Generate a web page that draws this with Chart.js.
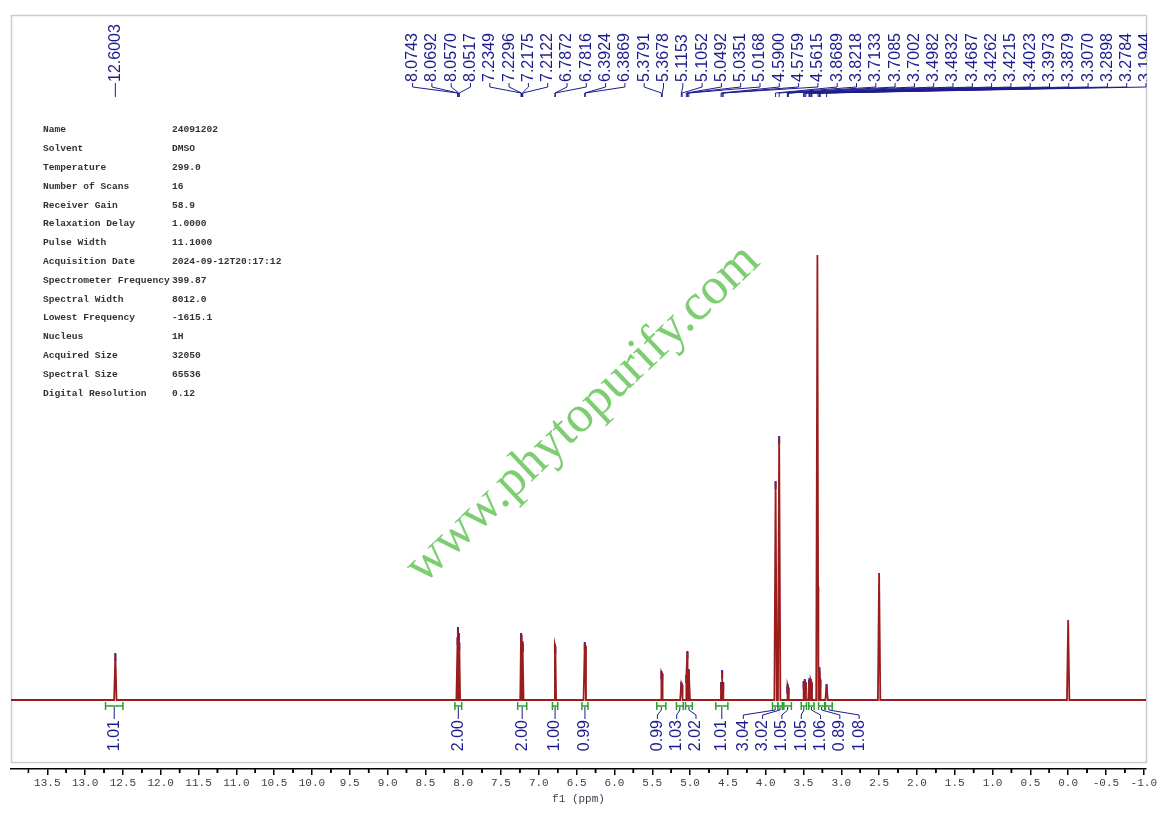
<!DOCTYPE html>
<html>
<head>
<meta charset="utf-8">
<script src="https://cdn.jsdelivr.net/npm/chart.js@4.4.1/dist/chart.umd.min.js"></script>
<style>
  html, body { margin: 0; padding: 0; background: #fff; }
  canvas { display: block; }
</style>
</head>
<body>
<canvas id="nmr" width="1158" height="816"></canvas>
<script>
// picked peaks (ppm) and their heights
const peakPpm = [
  12.6003,
  8.0743, 8.0692, 8.0570, 8.0517,
  7.2349, 7.2296, 7.2175, 7.2122,
  6.7872, 6.7816, 6.3924, 6.3869,
  5.3791, 5.3678, 5.1153, 5.1052, 5.0492, 5.0351, 5.0168,
  4.5900, 4.5759, 4.5615,
  3.8689, 3.8218, 3.7133, 3.7085, 3.7002,
  3.4982, 3.4832, 3.4687, 3.4262, 3.4215, 3.4023, 3.3973, 3.3879,
  3.3070, 3.2898, 3.2784, 3.1944
];
const peakHeight = [
  46,
  62, 72, 66, 57,
  66, 64, 58, 55,
  55, 53, 57, 54,
  28, 26, 17, 15, 24, 48, 30,
  17, 29, 17,
  218, 263, 13, 15, 12,
  18, 20, 17, 19, 21, 20, 18, 15,
  113, 32, 20, 15
];

// peaks that were not picked: water, DMSO, TMS
const solventPpm = [3.316, 2.500, 0.000];
const solventHeight = [445, 127, 80];

// integral regions
const integralFrom = [12.73, 8.11, 7.28, 6.82, 6.43, 5.44, 5.18, 5.06, 4.66, 3.91, 3.84, 3.76, 3.53, 3.43, 3.30, 3.21];
const integralTo   = [12.50, 8.02, 7.16, 6.75, 6.35, 5.32, 5.09, 4.97, 4.50, 3.84, 3.78, 3.66, 3.46, 3.36, 3.22, 3.12];
const integralValue = [1.01, 2.00, 2.00, 1.00, 0.99, 0.99, 1.03, 2.02, 1.01, 3.04, 3.02, 1.05, 1.05, 1.06, 0.89, 1.08];

const paramNames = [
  'Name', 'Solvent', 'Temperature', 'Number of Scans', 'Receiver Gain',
  'Relaxation Delay', 'Pulse Width', 'Acquisition Date', 'Spectrometer Frequency',
  'Spectral Width', 'Lowest Frequency', 'Nucleus', 'Acquired Size', 'Spectral Size',
  'Digital Resolution'
];
const paramValues = [
  '24091202', 'DMSO', '299.0', '16', '58.9',
  '1.0000', '11.1000', '2024-09-12T20:17:12', '399.87',
  '8012.0', '-1615.1', '1H', '32050', '65536',
  '0.12'
];

const watermarkText = 'www.phytopurify.com';
const axisTitle = 'f1 (ppm)';

const NAVY = '#1c1c8c';
const GREEN = '#2ca02c';
const SPEC = '#9b1c1c';

// line shape: narrow peaks on a flat baseline
const halfWidth = 0.016;
const spectrum = [{ x: 13.98, y: 0 }, { x: -1.03, y: 0 }];
peakPpm.forEach((p, i) => {
  spectrum.push({ x: p + halfWidth, y: 0 }, { x: p, y: peakHeight[i] }, { x: p - halfWidth, y: 0 });
});
solventPpm.forEach((p, i) => {
  spectrum.push({ x: p + halfWidth, y: 0 }, { x: p, y: solventHeight[i] }, { x: p - halfWidth, y: 0 });
});
spectrum.sort((a, b) => b.x - a.x);

const markers = peakPpm.map((p, i) => ({ x: p, y: peakHeight[i] - 3 }));

// spread labels so they don't overlap; a group sits centred on its peaks,
// but never starts more than `slack` px left of its first peak
function spread(desired, gap, lo, hi, slack) {
  let groups = desired.map((d) => ({ n: 1, sum: d, left: d }));
  const first = (g) => {
    let s = Math.max(g.sum / g.n - (g.n - 1) * gap / 2, g.left - slack);
    s = Math.min(s, hi - (g.n - 1) * gap);
    return Math.max(s, lo);
  };
  let changed = true;
  while (changed) {
    changed = false;
    for (let i = 0; i < groups.length - 1; i++) {
      const a = groups[i], b = groups[i + 1];
      if (first(b) - (first(a) + (a.n - 1) * gap) < gap - 0.01) {
        groups.splice(i, 2, { n: a.n + b.n, sum: a.sum + b.sum, left: a.left });
        changed = true;
        break;
      }
    }
  }
  const out = [];
  groups.forEach((g) => {
    const s = first(g);
    for (let k = 0; k < g.n; k++) out.push(s + k * gap);
  });
  return out;
}

const framePlugin = {
  id: 'frame',
  beforeDatasetsDraw(chart) {
    const ctx = chart.ctx;
    ctx.save();
    ctx.strokeStyle = '#cccccc';
    ctx.lineWidth = 1.5;
    ctx.strokeRect(11.5, 15.5, 1135, 747);
    ctx.restore();
  }
};

const paramPlugin = {
  id: 'params',
  afterDatasetsDraw(chart) {
    const ctx = chart.ctx;
    ctx.save();
    ctx.font = 'bold 9.6px "Liberation Mono"';
    ctx.fillStyle = '#333';
    ctx.textBaseline = 'middle';
    paramNames.forEach((n, i) => {
      const y = 130 + i * 18.8;
      ctx.fillText(n, 43, y);
      ctx.fillText(paramValues[i], 172, y);
    });
    ctx.restore();
  }
};

const peakLabelPlugin = {
  id: 'peakLabels',
  afterDatasetsDraw(chart) {
    const ctx = chart.ctx;
    const xs = chart.scales.x;
    const desired = peakPpm.map((p) => xs.getPixelForValue(p));
    const pos = spread(desired, 19.3, 20, 1146, 10);
    ctx.save();
    ctx.beginPath();
    ctx.rect(0, 0, 1147, 816);
    ctx.clip();
    ctx.font = '16px "Liberation Sans"';
    ctx.fillStyle = NAVY;
    ctx.strokeStyle = NAVY;
    ctx.lineWidth = 1;
    pos.forEach((lx, i) => {
      ctx.save();
      ctx.translate(lx, 82);
      ctx.rotate(-Math.PI / 2);
      ctx.textAlign = 'left';
      ctx.textBaseline = 'middle';
      ctx.fillText(peakPpm[i].toFixed(4), 0, 0);
      ctx.restore();
      ctx.beginPath();
      ctx.moveTo(lx, 83);
      ctx.lineTo(lx, 87);
      ctx.lineTo(desired[i], 93);
      ctx.lineTo(desired[i], 97);
      ctx.stroke();
    });
    ctx.restore();
  }
};

const integralPlugin = {
  id: 'integrals',
  afterDatasetsDraw(chart) {
    const ctx = chart.ctx;
    const xs = chart.scales.x;
    const centers = [];
    ctx.save();
    ctx.strokeStyle = GREEN;
    ctx.lineWidth = 1.5;
    integralFrom.forEach((f, i) => {
      const x1 = xs.getPixelForValue(f);
      const x2 = xs.getPixelForValue(integralTo[i]);
      centers.push((x1 + x2) / 2);
      ctx.beginPath();
      ctx.moveTo(x1, 706); ctx.lineTo(x2, 706);
      ctx.moveTo(x1, 702); ctx.lineTo(x1, 710);
      ctx.moveTo(x2, 702); ctx.lineTo(x2, 710);
      ctx.stroke();
    });
    const pos = spread(centers, 19.3, 20, 1140, 1000);
    ctx.strokeStyle = NAVY;
    ctx.fillStyle = NAVY;
    ctx.lineWidth = 1;
    ctx.font = '16px "Liberation Sans"';
    pos.forEach((lx, i) => {
      ctx.beginPath();
      ctx.moveTo(centers[i], 707);
      ctx.lineTo(centers[i], 710);
      ctx.lineTo(lx, 715);
      ctx.lineTo(lx, 719);
      ctx.stroke();
      ctx.save();
      ctx.translate(lx, 720);
      ctx.rotate(-Math.PI / 2);
      ctx.textAlign = 'right';
      ctx.textBaseline = 'middle';
      ctx.fillText(integralValue[i].toFixed(2), 0, 0);
      ctx.restore();
    });
    ctx.restore();
  }
};

const watermarkPlugin = {
  id: 'watermark',
  afterDatasetsDraw(chart) {
    const ctx = chart.ctx;
    ctx.save();
    ctx.translate(583, 414);
    ctx.rotate(-0.76);
    ctx.font = '52px "Liberation Serif"';
    ctx.fillStyle = 'rgba(80, 190, 65, 0.75)';
    ctx.textAlign = 'center';
    ctx.textBaseline = 'middle';
    ctx.fillText(watermarkText, 0, 0);
    ctx.restore();
  }
};

// minor ticks halfway between the labelled ones
const minorTickPlugin = {
  id: 'minorTicks',
  afterDraw(chart) {
    const ctx = chart.ctx;
    const xs = chart.scales.x;
    const y0 = chart.chartArea.bottom;
    ctx.save();
    ctx.strokeStyle = '#000';
    ctx.lineWidth = 1.5;
    xs.ticks.forEach((t) => {
      [t.value - 0.25, t.value + 0.25].forEach((v) => {
        if (v < xs.min || v > xs.max) return;
        const px = xs.getPixelForValue(v);
        ctx.beginPath();
        ctx.moveTo(px, y0);
        ctx.lineTo(px, y0 + 4);
        ctx.stroke();
      });
    });
    ctx.restore();
  }
};

new Chart(document.getElementById('nmr'), {
  type: 'scatter',
  data: {
    datasets: [
      {
        label: 'spectrum',
        data: spectrum,
        showLine: true,
        borderColor: SPEC,
        borderWidth: 1.8,
        pointRadius: 0,
        tension: 0
      },
      {
        label: 'picked peaks',
        data: markers,
        pointStyle: 'line',
        rotation: 90,
        pointRadius: 4,
        borderColor: '#2626b0',
        borderWidth: 2
      }
    ]
  },
  options: {
    responsive: false,
    animation: false,
    devicePixelRatio: 1,
    layout: { padding: { left: 11, right: 11, top: 15, bottom: 0 } },
    plugins: {
      legend: { display: false },
      tooltip: { enabled: false }
    },
    scales: {
      x: {
        type: 'linear',
        reverse: true,
        min: -1.03,
        max: 13.98,
        afterFit: (s) => { s.height = 47; },
        border: { display: true, color: '#000', width: 1.5 },
        grid: { display: true, drawOnChartArea: false, drawTicks: true, tickLength: 6, color: '#000', lineWidth: 1.5 },
        ticks: {
          stepSize: 0.5,
          includeBounds: false,
          autoSkip: false,
          maxRotation: 0,
          padding: 1,
          color: '#3c3c50',
          font: { family: '"Liberation Mono"', size: 11 },
          callback: (v) => Number(v).toFixed(1)
        },
        title: {
          display: true,
          text: axisTitle,
          color: '#3c3c50',
          font: { family: '"Liberation Mono"', size: 11 },
          padding: { top: 0, bottom: 10 }
        }
      },
      y: {
        display: false,
        min: -69,
        max: 685
      }
    }
  },
  plugins: [framePlugin, paramPlugin, peakLabelPlugin, integralPlugin, watermarkPlugin, minorTickPlugin]
});
</script>
</body>
</html>
